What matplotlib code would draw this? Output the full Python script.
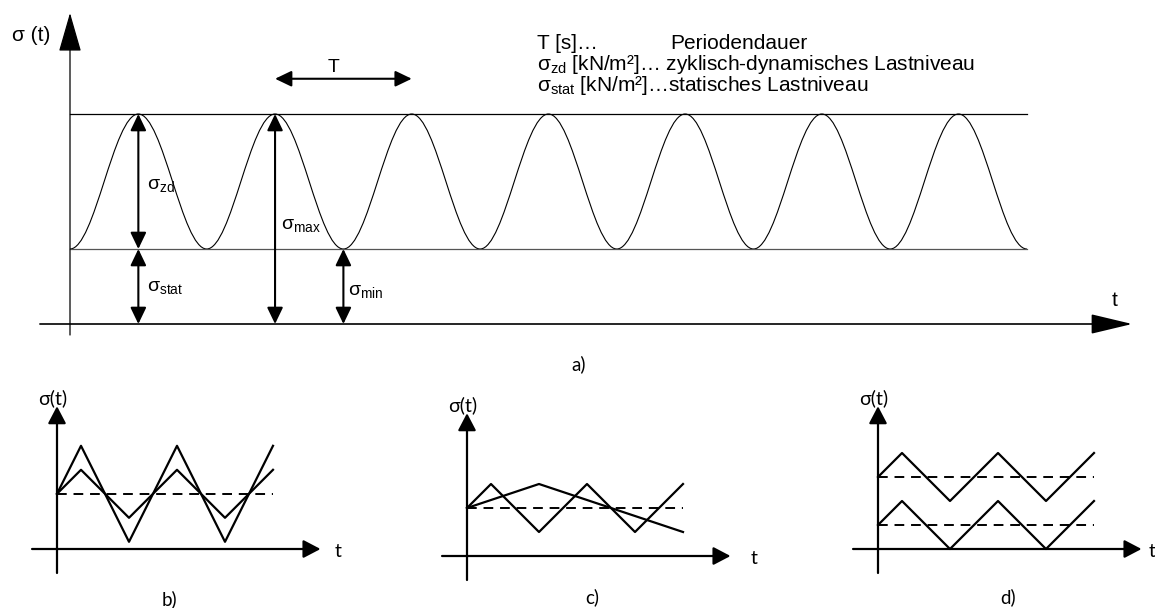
import matplotlib
matplotlib.use("Agg")
import matplotlib.pyplot as plt
from matplotlib.path import Path
from matplotlib.patches import PathPatch

plt.rcParams['font.family'] = ['Liberation Sans', 'DejaVu Sans']
plt.rcParams['mathtext.fontset'] = 'custom'
plt.rcParams['mathtext.rm'] = 'Liberation Sans'
plt.rcParams['mathtext.it'] = 'Liberation Sans:italic'

W, H = 1155, 608

# panel a: load signal, time in periods, stress in units of sigma_stat
sig_stat = 1.0
sig_max = 2.8
t_ext = [0.0, 0.5, 1.0, 1.5, 2.0, 2.5, 3.0, 3.5, 4.0, 4.5, 5.0, 5.5, 6.0, 6.5, 7.0]
s_ext = [1.0, 2.8, 1.0, 2.8, 1.0, 2.8, 1.0, 2.8, 1.0, 2.8, 1.0, 2.8, 1.0, 2.8, 1.0]

# panel b: two triangular signals around the same mean
t_b = [0, 1, 3, 5, 7, 9]
b_big = [2.3, 4.3, 0.3, 4.3, 0.3, 4.3]
b_small = [2.3, 3.3, 1.3, 3.3, 1.3, 3.3]
b_mean = 2.3

# panel c: fast and slow signal around the same mean
t_c = [0, 1, 3, 5, 7, 9]
c_fast = [2.0, 3.0, 1.0, 3.0, 1.0, 3.0]
t_c_slow = [0, 3, 9]
c_slow = [2.0, 3.0, 1.0]
c_mean = 2.0

# panel d: same amplitude, two mean levels
t_d = [0, 1, 3, 5, 7, 9]
d_upper = [3.0, 4.0, 2.0, 4.0, 2.0, 4.0]
d_lower = [1.0, 2.0, 0.0, 2.0, 0.0, 2.0]
d_means = [3.0, 1.0]

fig = plt.figure(figsize=(W / 100, H / 100), dpi=100)


def overlay(ox, oy, sx, sy):
    # transparent full-figure axes, data origin at pixel (ox, oy)
    ax = fig.add_axes([0, 0, 1, 1])
    ax.set_xlim(-ox / sx, (W - ox) / sx)
    ax.set_ylim(-(H - oy) / sy, oy / sy)
    ax.axis('off')
    ax.patch.set_visible(False)
    return ax


def arrow(ax, x0, y0, x1, y1, style, lw=1.5):
    ax.annotate('', xy=(x1, y1), xytext=(x0, y0),
                arrowprops=dict(arrowstyle=style, lw=lw, color='black',
                                shrinkA=0, shrinkB=0, mutation_scale=10))


# ---------- a) ----------
ax = overlay(70, 324, 136.7, 75)

verts = [(t_ext[0], s_ext[0])]
codes = [Path.MOVETO]
for i in range(1, len(t_ext)):
    dx = (t_ext[i] - t_ext[i - 1]) * 0.3634
    verts += [(t_ext[i - 1] + dx, s_ext[i - 1]), (t_ext[i] - dx, s_ext[i]), (t_ext[i], s_ext[i])]
    codes += [Path.CURVE4] * 3
ax.add_patch(PathPatch(Path(verts, codes), fill=False, lw=0.8, color='black'))

ax.plot([t_ext[0], t_ext[-1]], [sig_max, sig_max], color='black', lw=0.9)
ax.plot([t_ext[0], t_ext[-1]], [sig_stat, sig_stat], color='#555555', lw=0.9)

arrow(ax, 0, -0.147, 0, 4.147, '-|>,head_length=2.5,head_width=0.72', lw=0.9)
arrow(ax, -0.22, 0, 7.77, 0, '-|>,head_length=2.6,head_width=0.62', lw=1.2)

dbl = '<|-|>,head_length=1.0,head_width=0.48'
arrow(ax, 0.5, sig_stat, 0.5, sig_max, dbl)
arrow(ax, 0.5, 0, 0.5, sig_stat, dbl)
arrow(ax, 1.5, 0, 1.5, sig_max, dbl)
arrow(ax, 2.0, 0, 2.0, sig_stat, dbl)
arrow(ax, 1.5, 3.27, 2.5, 3.27, dbl)

ax.text(1.93, 3.36, 'T', fontsize=14, ha='center', va='baseline')
ax.text(0.565, 1.85, r'$\mathrm{σ}_{\mathrm{zd}}$', fontsize=14, va='center')
ax.text(1.54, 1.32, r'$\mathrm{σ}_{\mathrm{max}}$', fontsize=14, va='center')
ax.text(0.565, 0.49, r'$\mathrm{σ}_{\mathrm{stat}}$', fontsize=14, va='center')
ax.text(2.03, 0.44, r'$\mathrm{σ}_{\mathrm{min}}$', fontsize=14, va='center')
ax.text(-0.425, 3.85, 'σ (t)', fontsize=15, va='center')
ax.text(7.62, 0.32, 't', fontsize=15, va='center')
ax.text(3.72, -0.53, 'a)', fontsize=13.5, ha='center', va='center', family='Lato')

ax.text(3.416, 3.667, 'T [s]…', fontsize=15, va='baseline')
ax.text(4.389, 3.667, 'Periodendauer', fontsize=15, va='baseline')
ax.text(3.416, 3.387, r'$\mathrm{σ}_{\mathrm{zd}}$ [kN/m²]… zyklisch-dynamisches Lastniveau',
        fontsize=15, va='baseline')
ax.text(3.416, 3.107, r'$\mathrm{σ}_{\mathrm{stat}}$ [kN/m²]…statisches Lastniveau',
        fontsize=15, va='baseline')

# ---------- b), c), d) ----------
small_head = '-|>,head_length=1.05,head_width=0.55'
panels = [(57, 549, 'b)', 11.7, (4.7, -2.1)),
          (467, 556, 'c)', 11.95, (5.2, -1.7)),
          (878, 549, 'd)', 11.4, (5.4, -2.0))]
small_axes = []
for ox, oy, cap, tx, cpos in panels:
    sa = overlay(ox, oy, 24, 24)
    arrow(sa, 0, -1.0, 0, 5.95, small_head, lw=1.6)
    arrow(sa, -1.04, 0, 10.98, 0, small_head, lw=1.6)
    sa.text(-0.2, 6.3, 'σ(t)', fontsize=14, ha='center', va='center', family='Lato')
    sa.text(tx, -0.1, 't', fontsize=14, ha='center', va='center', family='Lato')
    sa.text(cpos[0], cpos[1], cap, fontsize=13.5, ha='center', va='center', family='Lato')
    small_axes.append(sa)

ax_b, ax_c, ax_d = small_axes
ax_b.plot(t_b, b_big, color='black', lw=1.6)
ax_b.plot(t_b, b_small, color='black', lw=1.6)
ax_b.plot([t_b[0], t_b[-1]], [b_mean, b_mean], color='black', lw=1.4, dashes=(5, 3.5))

ax_c.plot(t_c, c_fast, color='black', lw=1.6)
ax_c.plot(t_c_slow, c_slow, color='black', lw=1.6)
ax_c.plot([t_c[0], t_c[-1]], [c_mean, c_mean], color='black', lw=1.4, dashes=(5, 3.5))

ax_d.plot(t_d, d_upper, color='black', lw=1.6)
ax_d.plot(t_d, d_lower, color='black', lw=1.6)
for m in d_means:
    ax_d.plot([t_d[0], t_d[-1]], [m, m], color='black', lw=1.4, dashes=(5, 3.5))

fig.savefig('out.png', dpi=100, facecolor='white')
